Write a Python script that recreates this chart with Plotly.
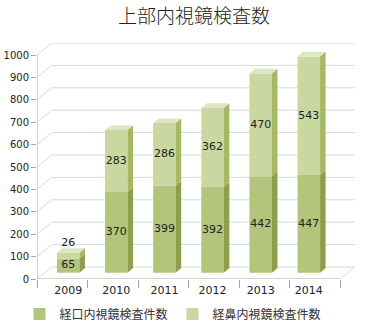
import plotly.graph_objects as go

# ---- data ----
years = ["2009", "2010", "2011", "2012", "2013", "2014"]
oral = [65, 370, 399, 392, 442, 447]        # 経口内視鏡検査件数
nasal = [26, 283, 286, 362, 470, 543]       # 経鼻内視鏡検査件数
series_names = ["経口内視鏡検査件数", "経鼻内視鏡検査件数"]
y_ticks = list(range(0, 1001, 100))
title_text = "上部内視鏡検査数"

# ---- pseudo-3D projection settings (data units) ----
WALL_DX, WALL_DY = 0.29, 53.6      # depth offset of the back wall
PERSP_X, PERSP_Y = 0.953, 0.975    # shrink of the bar plane (mid depth)
BAR_BASE = 28                      # floor height at the bar plane
BAR_W = 0.446                      # front face width
SIDE_DX, SIDE_DY = 0.109, 21       # bar depth

FRONT = ["#b3c47c", "#c9d7a1"]
SIDE = ["#8c9f4a", "#a5b964"]
TOP = "#dee6c6"
GRID = "#d9d9d9"
AXIS = "#a6a6a6"

n = len(years)
centers = [2.5 + PERSP_X * (i - 2.5) for i in range(n)]
bottoms = [BAR_BASE] * n
mids = [BAR_BASE + PERSP_Y * v for v in oral]
tops = [m + PERSP_Y * v for m, v in zip(mids, nasal)]

fig = go.Figure()

# front faces
for vals, base, name, col in [
    ([PERSP_Y * v for v in oral], bottoms, series_names[0], FRONT[0]),
    ([PERSP_Y * v for v in nasal], mids, series_names[1], FRONT[1]),
]:
    fig.add_trace(go.Bar(
        x=centers, y=vals, base=base, width=BAR_W, name=name,
        marker=dict(color=col, line=dict(width=0)), hoverinfo="skip",
    ))


def side_faces(lo, hi):
    xs, ys = [], []
    for c, b, t in zip(centers, lo, hi):
        xr = c + BAR_W / 2
        xs += [xr, xr + SIDE_DX, xr + SIDE_DX, xr, xr, None]
        ys += [b, b + SIDE_DY, t + SIDE_DY, t, b, None]
    return xs, ys


for (lo, hi), col in [((bottoms, mids), SIDE[0]), ((mids, tops), SIDE[1])]:
    xs, ys = side_faces(lo, hi)
    fig.add_trace(go.Scatter(x=xs, y=ys, mode="lines", fill="toself",
                             fillcolor=col, line=dict(width=0),
                             showlegend=False, hoverinfo="skip"))

# top faces
tx, ty = [], []
for c, t in zip(centers, tops):
    xl, xr = c - BAR_W / 2, c + BAR_W / 2
    tx += [xl, xl + SIDE_DX, xr + SIDE_DX, xr, xl, None]
    ty += [t, t + SIDE_DY, t + SIDE_DY, t, t, None]
fig.add_trace(go.Scatter(x=tx, y=ty, mode="lines", fill="toself",
                         fillcolor=TOP, line=dict(width=0),
                         showlegend=False, hoverinfo="skip"))

# value labels
lab_x, lab_y, lab_t = [], [], []
for i in range(n):
    lab_x.append(centers[i]); lab_y.append((bottoms[i] + mids[i]) / 2); lab_t.append(str(oral[i]))
    lab_x.append(centers[i])
    if nasal[i] < 60:
        lab_y.append(tops[i] + SIDE_DY + 23)
    else:
        lab_y.append((mids[i] + tops[i]) / 2)
    lab_t.append(str(nasal[i]))
fig.add_trace(go.Scatter(x=lab_x, y=lab_y, text=lab_t, mode="text",
                         textfont=dict(size=11, color="#222222", family="DejaVu Sans"),
                         showlegend=False, hoverinfo="skip"))

# back wall gridlines and floor
x0, x1 = -0.5, n - 0.5
shapes = []
def seg(xa, ya, xb, yb, col):
    shapes.append(dict(type="line", xref="x", yref="y", x0=xa, y0=ya, x1=xb, y1=yb,
                       line=dict(color=col, width=1), layer="below"))

for v in y_ticks:
    seg(x0, v, x0 + WALL_DX, v + WALL_DY, GRID)
    seg(x0 + WALL_DX, v + WALL_DY, x1 + WALL_DX, v + WALL_DY, GRID)
seg(x1 + WALL_DX, WALL_DY, x1, 0, GRID)
seg(x0, 0, x1, 0, AXIS)
seg(x0, 0, x0, y_ticks[-1], AXIS)

W, H = 365, 330
ML, MR, MT, MB = 37, 10, 43, 51
px_per_cat = 50.5
px_per_unit = 0.224

fig.update_layout(
    width=W, height=H,
    margin=dict(l=ML, r=MR, t=MT, b=MB, autoexpand=False),
    paper_bgcolor="white", plot_bgcolor="white",
    barmode="overlay",
    shapes=shapes,
    title=dict(text=title_text, x=194 / W, xanchor="center", y=1 - 16 / H, yanchor="middle",
               font=dict(size=19, color="#222222", family="Noto Sans CJK JP", weight=300)),
    xaxis=dict(range=[x0, x0 + (W - ML - MR) / px_per_cat], showgrid=False, zeroline=False,
               showline=False, tickvals=centers, ticktext=years, ticks="", ticklabelstandoff=3,
               tickfont=dict(size=11, color="#222222", family="DejaVu Sans"),
               minor=dict(tickvals=[x0 + k for k in range(n + 1)], ticks="outside",
                          ticklen=8, tickcolor=AXIS, showgrid=False)),
    yaxis=dict(range=[0, (H - MT - MB) / px_per_unit], showgrid=False, zeroline=False,
               showline=False, tickvals=y_ticks, ticks="outside", ticklen=5, tickcolor=AXIS,
               tickfont=dict(size=10, color="#222222", family="DejaVu Sans")),
    legend=dict(orientation="h", xref="container", yref="container",
                x=19.5 / W, xanchor="left", y=1 - 314 / H, yanchor="middle",
                bgcolor="rgba(0,0,0,0)",
                font=dict(size=12, color="#333333", family="Noto Sans CJK JP"),
                tracegroupgap=0),
    showlegend=True,
)

fig.write_html("out.html")
